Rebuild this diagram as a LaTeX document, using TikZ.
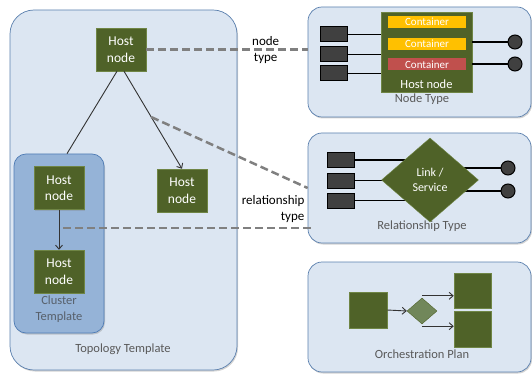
\documentclass[tikz,border=0pt]{standalone}
\usepackage{fontspec}
\setmainfont{Carlito}
\usetikzlibrary{positioning,arrows.meta,shapes.geometric,shadows}

\definecolor{panelfill}{HTML}{DCE6F2}
\definecolor{paneledge}{HTML}{5B80AE}
\definecolor{clusterfill}{HTML}{95B3D7}
\definecolor{clusteredge}{HTML}{4F7CB5}
\definecolor{hostgreen}{HTML}{4F6228}
\definecolor{hostedge}{HTML}{6F8545}
\definecolor{gatefill}{HTML}{71875A}
\definecolor{portgray}{HTML}{404040}
\definecolor{dashgray}{HTML}{808080}
\definecolor{titlegray}{HTML}{595959}
\definecolor{boxyellow}{HTML}{FFC000}
\definecolor{boxred}{HTML}{C0504D}

\begin{document}
\begin{tikzpicture}[
    x=1pt, y=-1pt,
    panel/.style={draw=paneledge, fill=panelfill, line width=0.7pt, rounded corners=14pt,
      drop shadow={shadow xshift=1pt, shadow yshift=-1.5pt, opacity=0.35}},
    cluster/.style={draw=clusteredge, fill=clusterfill, line width=0.7pt, rounded corners=12pt,
      drop shadow={shadow xshift=1pt, shadow yshift=-1.5pt, opacity=0.35}},
    hostnode/.style={draw=hostedge, fill=hostgreen, text=white, line width=0.5pt,
      minimum width=50pt, minimum height=43pt, inner sep=1pt, align=center,
      font=\fontsize{13.5}{16.5}\selectfont,
      drop shadow={shadow xshift=1pt, shadow yshift=-1pt, opacity=0.3}},
    container/.style={fill=#1, text=white, minimum width=78pt, minimum height=12pt,
      inner sep=0pt, font=\fontsize{11}{11}\selectfont},
    port/.style={draw=black, fill=portgray, line width=1pt, minimum width=27pt,
      minimum height=15pt, inner sep=0pt},
    plug/.style={circle, draw=black, fill=portgray, line width=1pt, minimum size=14pt, inner sep=0pt},
    wire/.style={black, line width=1.4pt},
    gate/.style={diamond, draw=hostedge, fill=hostgreen, text=white, inner sep=0pt,
      align=center, font=\fontsize{12}{15}\selectfont},
    block/.style={draw=hostedge, fill=hostgreen, line width=0.5pt, inner sep=0pt,
      drop shadow={shadow xshift=1pt, shadow yshift=-1pt, opacity=0.3}},
    paneltitle/.style={text=titlegray, align=center, font=\fontsize{12.5}{16}\selectfont},
    maplink/.style={dashgray, line width=2.5pt, dash pattern=on 8pt off 4pt},
    maplabel/.style={black, align=center, font=\fontsize{13}{15.5}\selectfont, inner sep=1pt},
    arrow/.style={-{Straight Barb[length=4pt,width=7pt]}, line width=0.9pt, black!80},
    flow/.style={-{Straight Barb[length=4pt,width=7pt]}, line width=0.9pt, black!80}
]
\useasboundingbox (0,0) rectangle (532,374);

% panels
\node[panel, minimum width=227pt, minimum height=360pt, rounded corners=24pt] (topo) at (123.5,190) {};
\node[panel, minimum width=223pt, minimum height=110pt] (ntype) at (419.5,62) {};
\node[panel, minimum width=223pt, minimum height=110pt] (rtype) at (419.5,188) {};
\node[panel, minimum width=223pt, minimum height=110pt] (plan) at (419.5,317) {};
\node[cluster, minimum width=90pt, minimum height=179pt] (cluster) at (59,243.5) {};

\node[paneltitle] at (123,349) {Topology Template};
\node[paneltitle, text=titlegray!80!clusteredge] at (59,309.5) {Cluster\\Template};
\node[paneltitle] at (422,99) {Node Type};
\node[paneltitle] at (422,226) {Relationship Type};
\node[paneltitle] at (422,354) {Orchestration Plan};

% topology
\node[hostnode] (htop) at (121,49.5) {Host\\node};
\node[hostnode] (hright) at (182,190.5) {Host\\node};
\node[hostnode] (hclus1) at (59,188) {Host\\node};
\node[hostnode] (hclus2) at (59,271.5) {Host\\node};

\draw[line width=0.9pt, black!80] ([xshift=-4pt]htop.south) -- ([xshift=8pt]cluster.north);
\draw[arrow] ([xshift=3pt]htop.south) -- coordinate[pos=0.47] (relsrc) (hright.north);
\draw[arrow] (hclus1.south) -- coordinate[pos=0.45] (clussrc) (hclus2.north);

% node type
\node[hostnode, minimum width=91pt, minimum height=80pt] (nthost) at (426.5,52) {};
\node[text=white, font=\fontsize{12.5}{14}\selectfont, above=0pt of nthost.south] {Host node};
\node[container=boxyellow] (cont1) at (427,22) {Container};
\node[container=boxyellow] (cont2) at (427,44) {Container};
\node[container=boxred] (cont3) at (427,64.5) {Container};
\foreach \i/\y in {1/34.5, 2/54.5, 3/73.5} {
  \node[port] (np\i) at (333.5,\y) {};
  \draw[wire] (np\i.east) -- (np\i.east -| nthost.west);
}
\foreach \i/\y in {1/42, 2/64} {
  \node[plug] (nc\i) at (515,\y) {};
  \draw[wire] (nthost.east |- nc\i) -- (nc\i.west);
}

% relationship type
\coordinate (linkc) at (430,180);
\foreach \i/\y in {1/160, 2/180.5, 3/200.5} {
  \node[port] (rp\i) at (341,\y) {};
  \draw[wire] (rp\i.east) -- (rp\i.east -| linkc);
}
\foreach \i/\y in {1/168, 2/191} {
  \node[plug] (rc\i) at (508,\y) {};
  \draw[wire] (rc\i.west) -- (rc\i.west -| linkc);
}
\node[gate, minimum width=97pt, minimum height=84pt] (link) at (linkc) {Link /\\Service};

% orchestration plan
\node[block, minimum width=38pt, minimum height=36pt] (step1) at (368,310) {};
\node[diamond, draw=hostgreen, fill=gatefill, minimum width=30pt, minimum height=26pt, inner sep=0pt] (choice) at (422,311) {};
\node[block, minimum width=37pt, minimum height=35pt] (task1) at (472.5,290.5) {};
\node[block, minimum width=37pt, minimum height=36pt] (task2) at (472.5,329) {};
\draw[flow] (step1.east) -- (choice.west);
\draw[flow] ([yshift=2pt]choice.north) -- ([yshift=2pt]choice.north -| task1.west);
\draw[flow] ([yshift=-2pt]choice.south) -- ([yshift=-2pt]choice.south -| task2.west);

% mappings
\draw[maplink] (htop.east) -- node[maplabel, pos=0.74, above=2pt]{node} node[maplabel, pos=0.74, below=2pt]{type} (htop.east -| ntype.west);
\draw[maplink] (relsrc) -- (rtype.west);
\draw[maplink] ([xshift=4pt]clussrc) -- node[maplabel, pos=1, anchor=south east, xshift=-5pt, yshift=3pt, align=right]{relationship\\type} ([xshift=4pt]clussrc -| rtype.west);
\end{tikzpicture}
\end{document}
